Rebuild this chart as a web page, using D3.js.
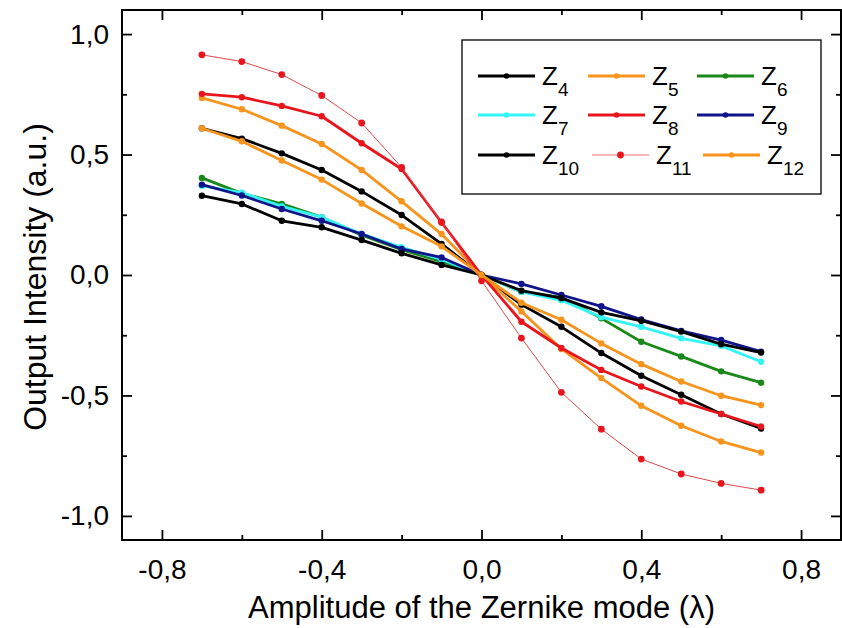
<!DOCTYPE html>
<html lang="en">
<head>
  <meta charset="UTF-8">
  <title>Zernike modes</title>
  <style>
    body { margin: 0; background: #fff; }
    svg { display: block; }
    text { font-family: "Liberation Sans", Arial, sans-serif; fill: #000; }
  </style>
</head>
<body>
  <svg width="842" height="628"></svg>

  <script src="https://cdn.jsdelivr.net/npm/d3@7"></script>
  <script>
    // amplitudes (lambda)
    const amplitude = [-0.7, -0.6, -0.5, -0.4, -0.3, -0.2, -0.1, 0, 0.1, 0.2, 0.3, 0.4, 0.5, 0.6, 0.7];

    // output intensity per Zernike mode
    const z4  = [0.609, 0.566, 0.505, 0.436, 0.347, 0.249, 0.129, 0, -0.123, -0.215, -0.324, -0.418, -0.497, -0.577, -0.637];
    const z5  = [0.735, 0.688, 0.620, 0.544, 0.436, 0.306, 0.170, 0, -0.151, -0.307, -0.428, -0.543, -0.626, -0.691, -0.737];
    const z6  = [0.403, 0.339, 0.295, 0.240, 0.165, 0.105, 0.055, 0, -0.070, -0.092, -0.180, -0.277, -0.338, -0.400, -0.447];
    const z7  = [0.370, 0.342, 0.285, 0.240, 0.170, 0.115, 0.065, 0, -0.070, -0.105, -0.175, -0.215, -0.263, -0.294, -0.360];
    const z8  = [0.752, 0.738, 0.702, 0.659, 0.547, 0.440, 0.218, 0, -0.194, -0.303, -0.394, -0.463, -0.525, -0.577, -0.629];
    const z9  = [0.375, 0.330, 0.274, 0.225, 0.170, 0.108, 0.073, 0, -0.037, -0.083, -0.130, -0.185, -0.232, -0.270, -0.318];
    const z10 = [0.329, 0.295, 0.225, 0.198, 0.145, 0.090, 0.042, 0, -0.065, -0.096, -0.155, -0.190, -0.235, -0.287, -0.322];
    const z11 = [0.914, 0.886, 0.832, 0.745, 0.631, 0.447, 0.220, -0.024, -0.262, -0.487, -0.640, -0.764, -0.826, -0.865, -0.893];
    const z12 = [0.609, 0.555, 0.475, 0.396, 0.297, 0.202, 0.119, 0, -0.115, -0.186, -0.284, -0.370, -0.442, -0.501, -0.540];

    const modeNames = ["4", "5", "6", "7", "8", "9", "10", "11", "12"];
    const modeValues = [z4, z5, z6, z7, z8, z9, z10, z11, z12];
    const modeColors = ["#000000", "#f7941d", "#1a881a", "#33f5f5", "#e8161c", "#10148a", "#000000", "#e8161c", "#f7941d"];

    const xTicks = [-0.8, -0.4, 0.0, 0.4, 0.8];
    const yTicks = [-1.0, -0.5, 0.0, 0.5, 1.0];

    const svg = d3.select("svg");
    const mLeft = 122, mRight = 841, mTop = 10, mBottom = 540;

    const x = d3.scaleLinear().domain([-0.9, 0.9]).range([mLeft, mRight]);
    const y = d3.scaleLinear().domain([-1.1, 1.1]).range([mBottom, mTop]);

    const fmt = d => d3.format(".1f")(d).replace(".", ",").replace("−", "-");

    // minor ticks halfway between major ones
    const xMinor = d3.range(-0.8, 0.81, 0.2).filter(v => !xTicks.some(t => Math.abs(t - v) < 1e-6));
    const yMinor = d3.range(-1.0, 1.01, 0.25).filter(v => !yTicks.some(t => Math.abs(t - v) < 1e-6));

    const axisG = svg.append("g");

    // bottom / left with labels, top / right mirrored
    axisG.append("g").attr("transform", `translate(0,${mBottom})`)
      .call(d3.axisBottom(x).tickValues(xTicks).tickFormat(fmt).tickSizeInner(-10).tickSizeOuter(0).tickPadding(19));
    axisG.append("g").attr("transform", `translate(0,${mBottom})`)
      .call(d3.axisBottom(x).tickValues(xMinor).tickFormat("").tickSizeInner(-5).tickSizeOuter(0));
    axisG.append("g").attr("transform", `translate(${mLeft},0)`)
      .call(d3.axisLeft(y).tickValues(yTicks).tickFormat(fmt).tickSizeInner(-10).tickSizeOuter(0).tickPadding(13));
    axisG.append("g").attr("transform", `translate(${mLeft},0)`)
      .call(d3.axisLeft(y).tickValues(yMinor).tickFormat("").tickSizeInner(-5).tickSizeOuter(0));
    axisG.append("g").attr("transform", `translate(0,${mTop})`)
      .call(d3.axisTop(x).tickValues(xTicks).tickFormat("").tickSizeInner(-10).tickSizeOuter(0));
    axisG.append("g").attr("transform", `translate(0,${mTop})`)
      .call(d3.axisTop(x).tickValues(xMinor).tickFormat("").tickSizeInner(-5).tickSizeOuter(0));
    axisG.append("g").attr("transform", `translate(${mRight},0)`)
      .call(d3.axisRight(y).tickValues(yTicks).tickFormat("").tickSizeInner(-10).tickSizeOuter(0));
    axisG.append("g").attr("transform", `translate(${mRight},0)`)
      .call(d3.axisRight(y).tickValues(yMinor).tickFormat("").tickSizeInner(-5).tickSizeOuter(0));

    axisG.selectAll(".domain").remove();
    axisG.selectAll("line").attr("stroke", "#000").attr("stroke-width", 1.8);
    axisG.selectAll("text").attr("font-size", 28).style("font-family", "'Liberation Sans', Arial, sans-serif");

    svg.append("rect")
      .attr("x", mLeft).attr("y", mTop)
      .attr("width", mRight - mLeft).attr("height", mBottom - mTop)
      .attr("fill", "none").attr("stroke", "#000").attr("stroke-width", 2);

    // data
    const line = d3.line().x((d, i) => x(amplitude[i])).y(d => y(d));

    modeValues.forEach((vals, k) => {
      const thin = modeNames[k] === "11";
      const g = svg.append("g");
      g.append("path")
        .attr("d", line(vals))
        .attr("fill", "none")
        .attr("stroke", thin ? "#e0474c" : modeColors[k])
        .attr("stroke-width", thin ? 1 : 2.8)
        .attr("stroke-linejoin", "round");
      g.selectAll("circle")
        .data(vals)
        .join("circle")
        .attr("cx", (d, i) => x(amplitude[i]))
        .attr("cy", d => y(d))
        .attr("r", thin ? 3.4 : 3.2)
        .attr("fill", modeColors[k]);
    });

    // legend
    const leg = svg.append("g");
    leg.append("rect")
      .attr("x", 462).attr("y", 40).attr("width", 359).attr("height", 154)
      .attr("fill", "#fff").attr("stroke", "#000").attr("stroke-width", 1.3);

    const rowY = [76, 115, 155];
    const colX = [[478, 588, 697], [478, 588, 697], [478, 592, 703]];

    modeNames.forEach((name, k) => {
      const r = Math.floor(k / 3), c = k % 3;
      const x0 = colX[r][c], y0 = rowY[r];
      const thin = name === "11";
      leg.append("line")
        .attr("x1", x0).attr("x2", x0 + 57).attr("y1", y0).attr("y2", y0)
        .attr("stroke", thin ? "#ee7075" : modeColors[k])
        .attr("stroke-width", thin ? 1 : 2.8);
      leg.append("circle")
        .attr("cx", x0 + 28.5).attr("cy", y0).attr("r", thin ? 3.4 : 2.8)
        .attr("fill", modeColors[k]);
      const t = leg.append("text")
        .attr("x", x0 + 64).attr("y", y0 + 9)
        .attr("font-size", 26);
      t.append("tspan").text("Z");
      t.append("tspan").attr("font-size", 19).attr("dy", 11).text(name);
    });

    // axis titles
    svg.append("text")
      .attr("x", (mLeft + mRight) / 2).attr("y", 618)
      .attr("text-anchor", "middle").attr("font-size", 31)
      .text("Amplitude of the Zernike mode (λ)");

    svg.append("text")
      .attr("transform", `translate(46,${(mTop + mBottom) / 2 + 2}) rotate(-90)`)
      .attr("text-anchor", "middle").attr("font-size", 32)
      .text("Output Intensity (a.u.)");
  </script>
</body>
</html>
